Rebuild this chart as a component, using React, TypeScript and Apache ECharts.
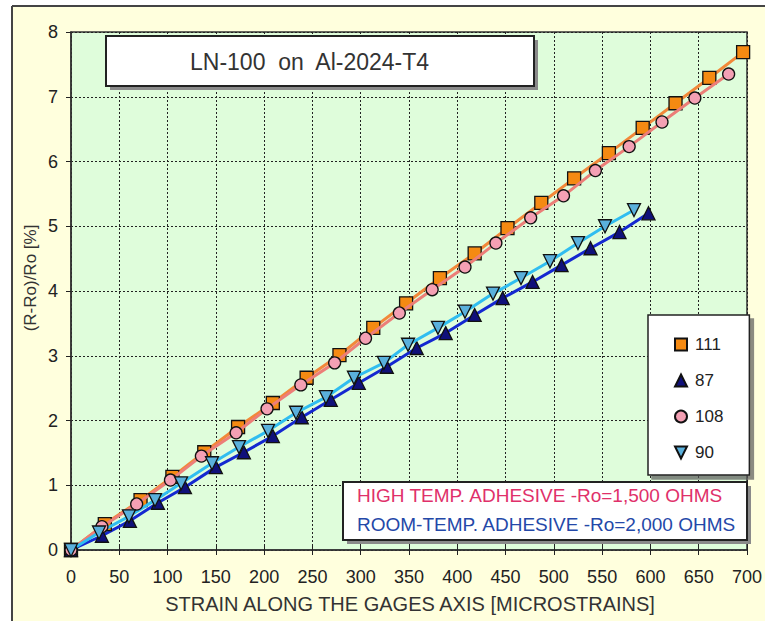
import React, { useEffect, useRef } from "react";
import * as echarts from "echarts";

const xTicks = { min: 0, max: 700, interval: 50 };
const yTicks = { min: 0, max: 8, interval: 1 };

const seriesNames = ["111", "87", "108", "90"];

const x111 = [0, 35, 72, 105, 138, 173, 209, 244, 278, 313, 347, 382, 418, 452, 487, 521, 557, 592, 626, 661, 696];
const y111 = [0, 0.4, 0.77, 1.13, 1.51, 1.9, 2.27, 2.66, 3.01, 3.43, 3.81, 4.2, 4.58, 4.97, 5.36, 5.74, 6.13, 6.52, 6.9, 7.29, 7.69];

const x108 = [0, 32, 68, 103, 135, 171, 203, 238, 273, 305, 340, 374, 408, 440, 476, 510, 543, 578, 612, 646, 681];
const y108 = [0, 0.36, 0.71, 1.08, 1.45, 1.81, 2.18, 2.55, 2.89, 3.27, 3.66, 4.02, 4.37, 4.74, 5.13, 5.47, 5.86, 6.23, 6.61, 6.98, 7.35];

const x87 = [0, 32, 61, 90, 118, 150, 179, 209, 239, 269, 298, 327, 358, 388, 418, 447, 478, 508, 538, 568, 598];
const y87 = [0, 0.22, 0.45, 0.73, 0.97, 1.28, 1.51, 1.76, 2.05, 2.32, 2.58, 2.83, 3.12, 3.35, 3.63, 3.89, 4.14, 4.4, 4.66, 4.91, 5.2];

const x90 = [0, 29, 60, 87, 114, 146, 174, 204, 233, 264, 293, 324, 349, 380, 408, 437, 466, 496, 525, 553, 583];
const y90 = [0, 0.27, 0.52, 0.77, 1.03, 1.34, 1.59, 1.84, 2.12, 2.36, 2.66, 2.89, 3.17, 3.43, 3.68, 3.96, 4.2, 4.46, 4.74, 5.0, 5.25];

const titleText = "LN-100  on  Al-2024-T4";
const noteHigh = "HIGH TEMP. ADHESIVE -Ro=1,500 OHMS";
const noteRoom = "ROOM-TEMP. ADHESIVE -Ro=2,000 OHMS";
const xTitle = "STRAIN ALONG THE GAGES AXIS [MICROSTRAINS]";
const yTitle = "(R-Ro)/Ro [%]";

const FONT = "'Liberation Sans', Arial, Helvetica, sans-serif";
const DOWN_TRI = "path://M0,0L10,0L5,10Z";

const pairs = (xs: number[], ys: number[]) => xs.map((x, i) => [x, ys[i]]);

export default function App() {
  const ref = useRef<HTMLDivElement>(null);
  useEffect(() => {
    if (!ref.current) return;
    const chart = echarts.init(ref.current, null, { renderer: "svg" });
    const border = { borderColor: "#111", borderWidth: 1.3 };
    chart.setOption({
      animation: false,
      backgroundColor: "#FFFFDD",
      grid: {
        left: 71,
        top: 32,
        width: 679,
        height: 518,
        show: true,
        backgroundColor: "#DFFDDB",
        borderColor: "#333",
        borderWidth: 1.5,
      },
      xAxis: [
        {
          type: "value",
          ...xTicks,
          position: "bottom",
          axisLine: { show: true, lineStyle: { color: "#333", width: 1.5 } },
          axisTick: { show: true, inside: true, length: 5, lineStyle: { color: "#222" } },
          axisLabel: { fontSize: 18, color: "#222", fontFamily: FONT, margin: 18 },
          splitLine: { show: true, lineStyle: { color: "#222", type: [2, 2], width: 1 } },
        },
        {
          type: "value",
          ...xTicks,
          position: "top",
          axisLine: { show: false },
          axisTick: { show: true, inside: true, length: 5, lineStyle: { color: "#222" } },
          axisLabel: { show: false },
          splitLine: { show: false },
        },
      ],
      yAxis: [
        {
          type: "value",
          ...yTicks,
          position: "left",
          axisLine: { show: true, lineStyle: { color: "#333", width: 1.5 } },
          axisTick: { show: false },
          axisLabel: { fontSize: 18, color: "#222", fontFamily: FONT, margin: 13 },
          splitLine: { show: true, lineStyle: { color: "#222", type: [2, 2], width: 1 } },
        },
        {
          type: "value",
          ...yTicks,
          position: "right",
          axisLine: { show: false },
          axisTick: { show: true, inside: true, length: 5, lineStyle: { color: "#222" } },
          axisLabel: { show: false },
          splitLine: { show: false },
        },
      ],
      legend: {
        orient: "vertical",
        left: 648,
        top: 315,
        padding: [21, 26, 14, 26],
        itemGap: 19,
        itemWidth: 12,
        itemHeight: 12,
        backgroundColor: "#fff",
        borderColor: "#222",
        borderWidth: 1.5,
        borderRadius: 0,
        shadowColor: "rgba(90,90,90,0.7)",
        shadowOffsetX: 4,
        shadowOffsetY: 4,
        shadowBlur: 0,
        textStyle: { fontSize: 17, color: "#222", fontFamily: FONT, padding: [0, 0, 0, 3] },
        data: [
          { name: seriesNames[0], icon: "rect" },
          { name: seriesNames[1], icon: "triangle" },
          { name: seriesNames[2], icon: "circle" },
          { name: seriesNames[3], icon: DOWN_TRI },
        ],
      },
      graphic: [
        { type: "rect", shape: { x: 0, y: 0, width: 765, height: 6 }, style: { fill: "#fff" } },
        { type: "rect", shape: { x: 0, y: 0, width: 12, height: 621 }, style: { fill: "#fff" } },
        { type: "line", shape: { x1: 12, y1: 6, x2: 765, y2: 6 }, style: { stroke: "#444", lineWidth: 2 } },
        { type: "line", shape: { x1: 12, y1: 6, x2: 12, y2: 621 }, style: { stroke: "#444", lineWidth: 2 } },
        // title box
        { type: "rect", z: 10, shape: { x: 110, y: 40, width: 428, height: 50 }, style: { fill: "#8a8a8a" } },
        { type: "rect", z: 11, shape: { x: 106, y: 36, width: 428, height: 50 }, style: { fill: "#fff", stroke: "#222", lineWidth: 2 } },
        {
          type: "text", z: 12, x: 190, y: 62,
          style: { text: titleText, fontSize: 23, fill: "#333", fontFamily: FONT, textAlign: "left", textVerticalAlign: "middle" },
        },
        // note box
        { type: "rect", z: 10, shape: { x: 347, y: 486, width: 404, height: 58 }, style: { fill: "#8a8a8a" } },
        { type: "rect", z: 11, shape: { x: 343, y: 482, width: 404, height: 58 }, style: { fill: "#fff", stroke: "#222", lineWidth: 2 } },
        {
          type: "text", z: 12, x: 357, y: 495,
          style: { text: noteHigh, fontSize: 19, fill: "#E0306A", fontFamily: FONT, textAlign: "left", textVerticalAlign: "middle" },
        },
        {
          type: "text", z: 12, x: 357, y: 524,
          style: { text: noteRoom, fontSize: 19, fill: "#2448A8", fontFamily: FONT, textAlign: "left", textVerticalAlign: "middle" },
        },
        // axis titles
        {
          type: "text", x: 410, y: 604,
          style: { text: xTitle, fontSize: 20, fill: "#333", fontFamily: FONT, textAlign: "center", textVerticalAlign: "middle" },
        },
        {
          type: "text", x: 30, y: 278, rotation: Math.PI / 2,
          style: { text: yTitle, fontSize: 17, fill: "#333", fontFamily: FONT, textAlign: "center", textVerticalAlign: "middle" },
        },
      ],
      series: [
        {
          name: seriesNames[0], type: "line", data: pairs(x111, y111),
          symbol: "rect", symbolSize: 13,
          lineStyle: { color: "#F2883A", width: 3 },
          itemStyle: { color: "#F58A12", ...border }, z: 2,
        },
        {
          name: seriesNames[1], type: "line", data: pairs(x87, y87),
          symbol: "triangle", symbolSize: 13,
          lineStyle: { color: "#1428D0", width: 3 },
          itemStyle: { color: "#10107A", ...border }, z: 2,
        },
        {
          name: seriesNames[2], type: "line", data: pairs(x108, y108),
          symbol: "circle", symbolSize: 12,
          lineStyle: { color: "#EC7E78", width: 3 },
          itemStyle: { color: "#F4A0B4", ...border }, z: 3,
        },
        {
          name: seriesNames[3], type: "line", data: pairs(x90, y90),
          symbol: DOWN_TRI, symbolSize: 13,
          lineStyle: { color: "#30BDF0", width: 3 },
          itemStyle: { color: "#5AB0DC", ...border }, z: 3,
        },
      ],
    });
    return () => chart.dispose();
  }, []);
  return (
    <div
      ref={ref}
      style={{ position: "absolute", left: 0, top: 0, width: 765, height: 621 }}
    />
  );
}
